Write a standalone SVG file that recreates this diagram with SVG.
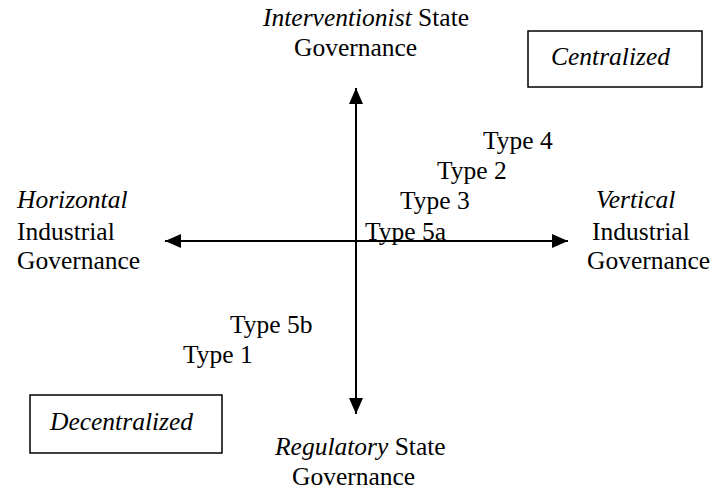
<svg xmlns="http://www.w3.org/2000/svg" width="720" height="496" viewBox="0 0 720 496">
<style>
text{font-family:'Liberation Serif','Times New Roman',Tinos,'DejaVu Serif',serif;font-size:25.5px;fill:#000}
.i{font-style:italic}
.box{fill:none;stroke:#000;stroke-width:1.5}
.ax{stroke:#000;stroke-width:2;fill:none}
</style>
<defs>
<marker id="ah" viewBox="0 0 16 14" refX="16" refY="7" markerWidth="16" markerHeight="14" markerUnits="userSpaceOnUse" orient="auto">
<path d="M0,0 L16,7 L0,14 Z" fill="#000"/>
</marker>
</defs>
<g id="connectors">
<line class="ax" x1="356" y1="241" x2="356" y2="88" marker-end="url(#ah)"/>
<line class="ax" x1="356" y1="241" x2="356" y2="414" marker-end="url(#ah)"/>
<line class="ax" x1="356" y1="241" x2="568" y2="241" marker-end="url(#ah)"/>
<line class="ax" x1="356" y1="241" x2="165" y2="241" marker-end="url(#ah)"/>
</g>
<g id="top">
<text x="263" y="26" font-family="Liberation Serif, serif"><tspan class="i">Interventionist</tspan> State</text>
<text x="294" y="56" font-family="Liberation Serif, serif">Governance</text>
</g>
<g id="bottom">
<text x="275" y="455"><tspan class="i">Regulatory</tspan> State</text>
<text x="292" y="485">Governance</text>
</g>
<g id="left">
<text class="i" x="17" y="208">Horizontal</text>
<text x="17" y="240">Industrial</text>
<text x="17" y="269">Governance</text>
</g>
<g id="right">
<text class="i" x="596" y="208">Vertical</text>
<text x="592" y="240">Industrial</text>
<text x="587" y="269">Governance</text>
</g>
<g id="centralized">
<rect class="box" x="528" y="31" width="174" height="56"/>
<text class="i" x="551" y="65">Centralized</text>
</g>
<g id="decentralized">
<rect class="box" x="30" y="395" width="192" height="58"/>
<text class="i" x="50" y="430">Decentralized</text>
</g>
<g id="type4"><text x="483" y="149">Type 4</text></g>
<g id="type2"><text x="437" y="179">Type 2</text></g>
<g id="type3"><text x="400" y="209">Type 3</text></g>
<g id="type5a"><text x="365" y="240">Type 5a</text></g>
<g id="type5b"><text x="230" y="333">Type 5b</text></g>
<g id="type1"><text x="183" y="363">Type 1</text></g>
</svg>
